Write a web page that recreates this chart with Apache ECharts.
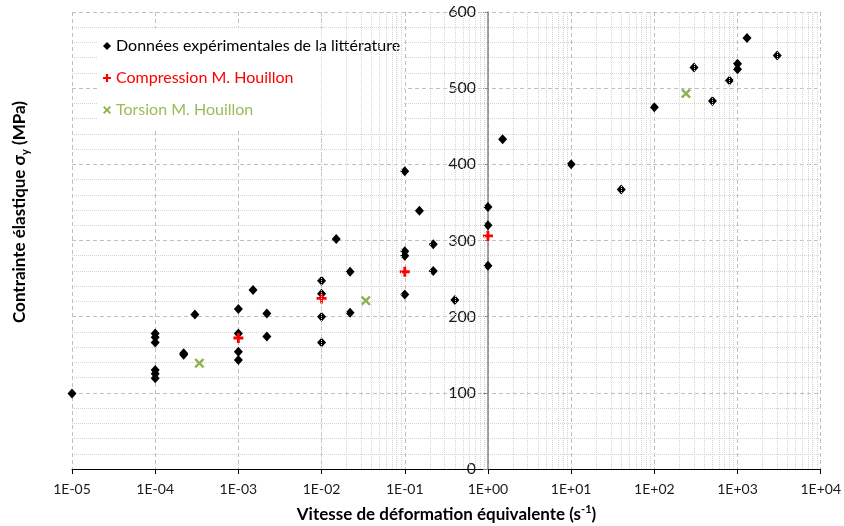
<!DOCTYPE html>
<html>
<head>
<meta charset="utf-8">
<script src="https://cdn.jsdelivr.net/npm/echarts@6/dist/echarts.min.js"></script>
<style>
  html, body { margin: 0; padding: 0; background: #fff; }
  #chart { width: 844px; height: 526px; }
</style>
</head>
<body>
<div id="chart"></div>
<script>
// Yield stress vs. equivalent strain rate
const litRate   = [1e-5, 1e-4, 1e-4, 1e-4, 1e-4, 1e-4, 1e-4, 2.2e-4, 2.2e-4, 3e-4,
                   1e-3, 1e-3, 1e-3, 1e-3, 1.5e-3, 2.2e-3, 2.2e-3,
                   1e-2, 1e-2, 1e-2, 1e-2, 1.5e-2, 2.2e-2, 2.2e-2,
                   0.1, 0.1, 0.1, 0.1, 0.15, 0.22, 0.22, 0.4,
                   1, 1, 1, 1.5, 10, 40, 100, 300, 500, 800, 1000, 1000, 1300, 3000];
const litStress = [99, 178, 173, 166, 130, 125, 119, 152, 150, 203,
                   210, 178, 154, 143, 235, 204, 174,
                   247, 230, 200, 166, 302, 259, 205,
                   391, 286, 280, 229, 339, 295, 260, 222,
                   344, 320, 267, 433, 400, 367, 475, 527, 483, 510, 532, 525, 566, 543];

const compRate   = [1e-3, 1e-2, 0.1, 1];
const compStress = [172, 224, 259, 306];

const torsRate   = [3.4e-4, 3.4e-2, 240];
const torsStress = [139, 221, 493];

const seriesNames = ['Données expérimentales de la littérature',
                     'Compression M. Houillon',
                     'Torsion M. Houillon'];

const xMin = 1e-5, xMax = 1e4;
const yTicks = [0, 100, 200, 300, 400, 500, 600];

const FONT = 'Lato, "Open Sans", sans-serif';
const RED = '#ff0000';
const GREEN = '#8fb04f';

const plusPath  = 'path://M3.6,0H6.4V3.6H10V6.4H6.4V10H3.6V6.4H0V3.6H3.6Z';
const crossPath = 'path://M0,1.7L1.7,0L5,3.3L8.3,0L10,1.7L6.7,5L10,8.3L8.3,10L5,6.7L1.7,10L0,8.3L3.3,5Z';

const zip = (a, b) => a.map((v, i) => [v, b[i]]);

// dotted minor lines at 2..9 within each decade of the log axis
const minorLines = [];
for (let e = Math.log10(xMin); e < Math.log10(xMax); e++) {
  for (let m = 2; m <= 9; m++) minorLines.push({ xAxis: m * Math.pow(10, e) });
}

const gridLeft = 72, gridRight = 23, gridTop = 12, gridBottom = 57;
const gridWidth = 844 - gridLeft - gridRight;
// vertical axis crosses the horizontal one at a rate of 1 s^-1
const yCross = gridWidth * (0 - Math.log10(xMin)) / (Math.log10(xMax) - Math.log10(xMin));

const expLabel = v => {
  const e = Math.round(Math.log10(v));
  const s = e < 0 ? '-' : '+';
  const a = Math.abs(e);
  return '1E' + s + (a < 10 ? '0' + a : a);
};

const chart = echarts.init(document.getElementById('chart'), null, { renderer: 'canvas' });
chart.setOption({
  animation: false,
  backgroundColor: '#fff',
  textStyle: { fontFamily: FONT },
  grid: { left: gridLeft, right: gridRight, top: gridTop, bottom: gridBottom },
  xAxis: {
    type: 'log', logBase: 10, min: xMin, max: xMax,
    axisLine: { show: true, lineStyle: { color: '#000', width: 1 } },
    axisTick: { show: true, length: 5, lineStyle: { color: '#000' } },
    axisLabel: { formatter: expLabel, fontSize: 14, color: '#1a1a1a', margin: 13, fontFamily: FONT },
    splitLine: { show: true, lineStyle: { type: [4, 3], color: '#bfbfbf', width: 1 } },
    minorTick: { show: false },
    minorSplitLine: { show: false }
  },
  yAxis: {
    type: 'value', min: yTicks[0], max: yTicks[yTicks.length - 1], interval: 100,
    position: 'left', offset: -yCross,
    axisLine: { show: true, lineStyle: { color: '#868686', width: 1.5 } },
    axisTick: { show: true, length: 5, lineStyle: { color: '#868686' } },
    axisLabel: { fontSize: 16, color: '#1a1a1a', margin: 12, fontFamily: FONT },
    splitLine: { show: true, lineStyle: { type: [4, 3], color: '#bfbfbf', width: 1 } },
    minorTick: { show: false, splitNumber: 5 },
    minorSplitLine: { show: true, lineStyle: { type: [1, 1], color: '#d4d4d4', width: 1 } }
  },
  legend: {
    orient: 'vertical', left: 97, top: 28,
    backgroundColor: '#fff',
    padding: [9, 4, 9, 6],
    itemGap: 14, itemWidth: 8, itemHeight: 8,
    textStyle: { fontSize: 16, fontFamily: FONT, lineHeight: 18 },
    selectedMode: false,
    data: [
      { name: seriesNames[0], icon: 'diamond', itemStyle: { color: '#000' }, textStyle: { color: '#000' } },
      { name: seriesNames[1], icon: plusPath, itemStyle: { color: RED }, textStyle: { color: RED } },
      { name: seriesNames[2], icon: crossPath, itemStyle: { color: GREEN }, textStyle: { color: '#9bbb59' } }
    ]
  },
  series: [
    {
      name: 'minor-grid', type: 'scatter', data: [], silent: true, z: 1,
      markLine: {
        silent: true, symbol: ['none', 'none'], animation: false,
        label: { show: false },
        lineStyle: { type: [1, 1], color: '#d4d4d4', width: 1 },
        data: minorLines
      }
    },
    {
      name: seriesNames[0], type: 'scatter', z: 3,
      symbol: 'diamond', symbolSize: [9, 10],
      itemStyle: { color: '#000', opacity: 1 },
      data: zip(litRate, litStress)
    },
    {
      name: seriesNames[1], type: 'scatter', z: 4,
      symbol: plusPath, symbolSize: 10,
      itemStyle: { color: RED, opacity: 1 },
      data: zip(compRate, compStress)
    },
    {
      name: seriesNames[2], type: 'scatter', z: 4,
      symbol: crossPath, symbolSize: 10,
      itemStyle: { color: GREEN, opacity: 1 },
      data: zip(torsRate, torsStress)
    }
  ],
  graphic: [
    {
      type: 'text', x: gridLeft + gridWidth / 2, y: 515,
      style: {
        text: '{b|Vitesse de déformation équivalente (s}{sup|-1}{b|)}',
        align: 'center', verticalAlign: 'middle',
        rich: {
          b: { fontSize: 17, fontWeight: 'bold', fontFamily: FONT, color: '#000', lineHeight: 22 },
          sup: { fontSize: 11, fontWeight: 'bold', fontFamily: FONT, color: '#000', lineHeight: 13, verticalAlign: 'top' }
        }
      }
    },
    {
      type: 'text', x: 20, y: 212, rotation: Math.PI / 2,
      style: {
        text: '{b|Contrainte élastique σ}{sub|y}{b| (MPa)}',
        align: 'center', verticalAlign: 'middle',
        rich: {
          b: { fontSize: 17, fontWeight: 'bold', fontFamily: FONT, color: '#000', lineHeight: 22 },
          sub: { fontSize: 11, fontWeight: 'bold', fontFamily: FONT, color: '#000', lineHeight: 13, verticalAlign: 'bottom' }
        }
      }
    }
  ]
});
</script>
</body>
</html>
